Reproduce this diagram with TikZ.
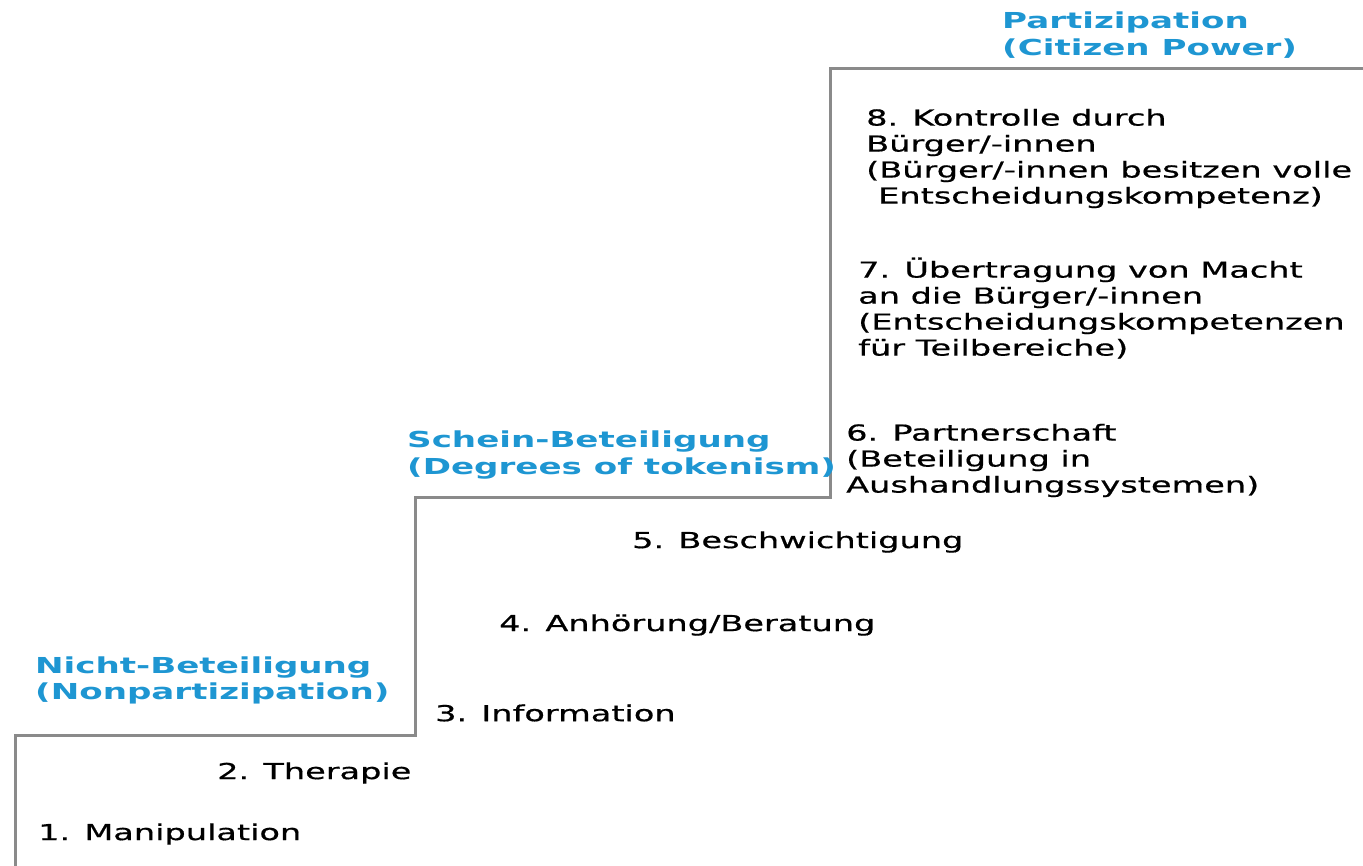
\documentclass[tikz,border=0pt]{standalone}
\usepackage{fontspec}
\setmainfont[FakeStretch=1.55]{DejaVu Sans}
\newfontfamily\rungfont[FakeStretch=1.525, FakeBold=0.6]{DejaVu Sans}
\definecolor{stairgray}{HTML}{8A8A8A}
\definecolor{headblue}{HTML}{1E96D2}
\tikzset{
  stair/.style={draw=stairgray, line width=3pt},
  rung/.style={anchor=west, inner sep=0pt, align=left, text=black,
    font=\rungfont\fontsize{22}{26}\selectfont},
  head/.style={anchor=west, inner sep=0pt, align=left, text=headblue,
    font=\fontsize{22}{26.5}\selectfont\bfseries},
}
\begin{document}
\begin{tikzpicture}[x=1pt,y=-1pt]
\useasboundingbox (0,0) rectangle (1363,865);
% staircase
\coordinate (s0) at (15,867);
\coordinate (s1) at (15,735);
\coordinate (s2) at (415,735);
\coordinate (s3) at (415,497);
\coordinate (s4) at (830,497);
\coordinate (s5) at (830,68);
\coordinate (s6) at (1370,68);
\draw[stair] (s0) -- (s1) -- (s2) -- (s3) -- (s4) -- (s5) -- (s6);
% headings
\node[head] (hP) at (1002,35) {Partizipation\\(Citizen Power)};
\node[head] (hS) at (407,455) {Schein-Beteiligung\\(Degrees of tokenism)};
\node[head] (hN) at (35,680.5) {Nicht-Beteiligung\\(Nonpartizipation)};
% rungs
\node[rung] (r8) at (866,158.5) {8. Kontrolle durch\\Bürger/-innen\\(Bürger/-innen besitzen volle\\\hspace*{12pt}Entscheidungskompetenz)};
\node[rung] (r7) at (858,308) {7. Übertragung von Macht\\an die Bürger/-innen\\(Entscheidungskompetenzen\\für Teilbereiche)};
\node[rung] (r6) at (846,460.5) {6. Partnerschaft\\(Beteiligung in\\Aushandlungssystemen)};
\node[rung] (r5) at (632,542) {5. Beschwichtigung};
\node[rung] (r4) at (499,625) {4. Anhörung/Beratung};
\node[rung] (r3) at (435,713) {3. Information};
\node[rung] (r2) at (217,773) {2. Therapie};
\node[rung] (r1) at (38,834) {1. Manipulation};
\end{tikzpicture}
\end{document}
